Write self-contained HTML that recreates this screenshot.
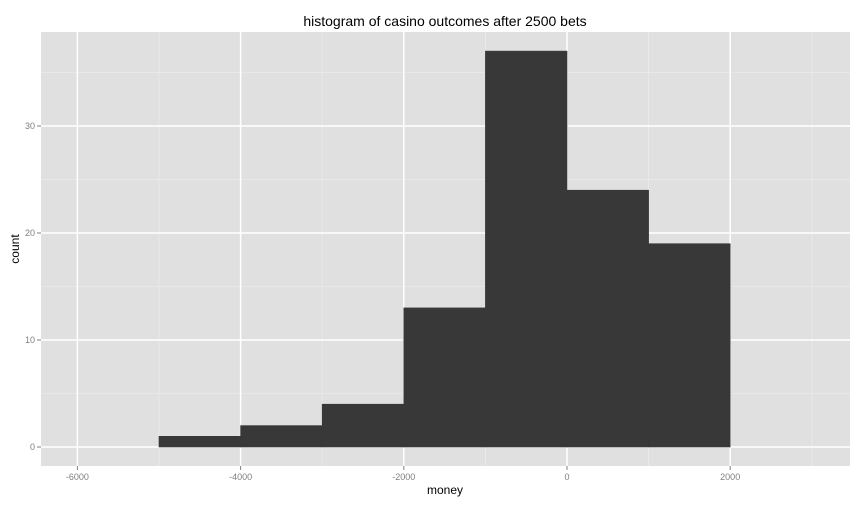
<!DOCTYPE html>
<html><head><meta charset="utf-8"><style>
body{margin:0;background:#fff;font-family:"Liberation Sans",sans-serif}
</style></head><body>
<svg id="c" width="864" height="504" xmlns="http://www.w3.org/2000/svg"></svg>
<script>
const binStarts=[-5000,-4000,-3000,-2000,-1000,0,1000];
const binCounts=[1,2,4,13,37,24,19];
const binWidth=1000;
const xTicks=[-6000,-4000,-2000,0,2000];
const yTicks=[0,10,20,30];
const NS="http://www.w3.org/2000/svg";
const svg=document.getElementById('c');
const L=41,R=850,T=32,B=466;
const sx=v=>567+v*0.0816;
const sy=v=>447-v*10.7;
function el(t,a,p){const e=document.createElementNS(NS,t);for(const k in a)e.setAttribute(k,a[k]);(p||svg).appendChild(e);return e;}
const bg=el('rect',{x:L,y:T,width:R-L,height:B-T,fill:'#e0e0e0'});


for(let i=0;i<xTicks.length-1;i++){const m=(xTicks[i]+xTicks[i+1])/2;el('line',{x1:sx(m),x2:sx(m),y1:T,y2:B,stroke:'#ebebeb','stroke-width':0.8});}
el('line',{x1:sx(3000),x2:sx(3000),y1:T,y2:B,stroke:'#ebebeb','stroke-width':0.8});
for(let i=0;i<yTicks.length;i++){const m=yTicks[i]+5;el('line',{x1:L,x2:R,y1:sy(m),y2:sy(m),stroke:'#ebebeb','stroke-width':0.8});}
xTicks.forEach(v=>{
 const g=el('line',{x1:sx(v),x2:sx(v),y1:T,y2:B,stroke:'#fff','stroke-width':1.5});
 
 
 el('line',{x1:sx(v),x2:sx(v),y1:B,y2:B+4,stroke:'#7f7f7f'});
 const t=el('text',{x:sx(v),y:B+14,'text-anchor':'middle','font-size':9,fill:'#7f7f7f'});t.textContent=v;
 
 
});
yTicks.forEach(v=>{
 const g=el('line',{x1:L,x2:R,y1:sy(v),y2:sy(v),stroke:'#fff','stroke-width':1.5});
 
 
 el('line',{x1:L-4,x2:L,y1:sy(v),y2:sy(v),stroke:'#7f7f7f'});
 const t=el('text',{x:L-6,y:sy(v)+3,'text-anchor':'end','font-size':9,fill:'#7f7f7f'});t.textContent=v;
 
 
});
binStarts.forEach((s,i)=>{
 const r=el('rect',{x:sx(s),y:sy(binCounts[i]),width:sx(s+binWidth)-sx(s),height:sy(0)-sy(binCounts[i]),fill:'#383838',stroke:'#383838','stroke-width':0.6});
 
 
});
let t=el('text',{x:445,y:26,'text-anchor':'middle','font-size':14,fill:'#000'});t.textContent='histogram of casino outcomes after 2500 bets';


t=el('text',{x:445,y:494,'text-anchor':'middle','font-size':12,fill:'#000'});t.textContent='money';


t=el('text',{x:19,y:249,'text-anchor':'middle','font-size':12,fill:'#000',transform:'rotate(-90 19 249)'});t.textContent='count';


</script>
</body></html>
